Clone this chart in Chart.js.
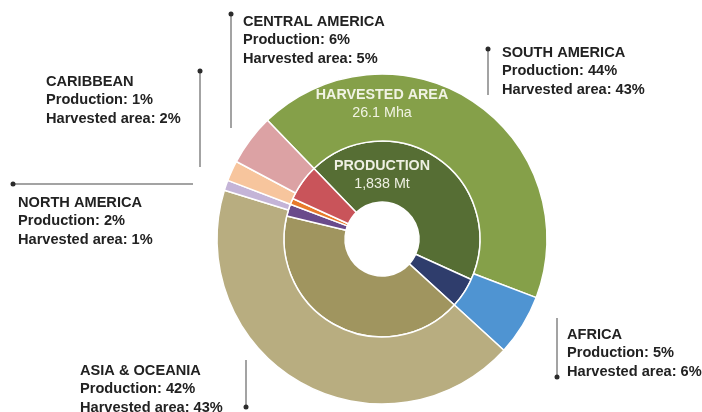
<!DOCTYPE html>
<html>
<head>
<meta charset="utf-8">
<title>Production and harvested area by region</title>
<script src="https://cdn.jsdelivr.net/npm/chart.js@4/dist/chart.umd.min.js"></script>
<style>
  html, body { margin: 0; padding: 0; background: #ffffff; }
  #wrap { position: relative; width: 702px; height: 412px; }
</style>
</head>
<body>
<div id="wrap"><canvas id="chart" width="702" height="412"></canvas></div>
<script>
// Regions, in clockwise order starting from South America
const regions = ['SOUTH AMERICA', 'AFRICA', 'ASIA & OCEANIA', 'NORTH AMERICA', 'CARIBBEAN', 'CENTRAL AMERICA'];
// Share of world production (%)
const production = [44, 5, 42, 2, 1, 6];
// Share of world harvested area (%)
const harvestedArea = [43, 6, 43, 1, 2, 5];
// Ring colours: light shade for harvested area, dark shade for production
const areaColors = ['#85a049', '#4f94d2', '#b8ad80', '#c4b4d7', '#f7c59d', '#dca2a4'];
const prodColors = ['#566e34', '#2f3d6c', '#a0955f', '#6a4b8b', '#e87a2b', '#c9545a'];
// Totals shown in the rings
const areaTitle = 'HARVESTED AREA';
const areaTotal = '26.1 Mha';
const prodTitle = 'PRODUCTION';
const prodTotal = '1,838 Mt';

// Where each region's callout sits: text origin, leader line and dot end
const callouts = [
  { text: [502, 53], line: [[488, 49], [488, 95]], dot: 0 },
  { text: [567, 335], line: [[557, 318], [557, 377]], dot: 1 },
  { text: [80, 371], line: [[246, 360], [246, 407]], dot: 1 },
  { text: [18, 203], line: [[13, 184], [193, 184]], dot: 0 },
  { text: [46, 82], line: [[200, 71], [200, 167]], dot: 0 },
  { text: [243, 22], line: [[231, 14], [231, 128]], dot: 0 }
];

const FONT = '"Liberation Sans", Arial, Helvetica, sans-serif';

const annotations = {
  id: 'annotations',
  afterDraw(chart) {
    const ctx = chart.ctx;
    ctx.save();
    // callouts
    callouts.forEach((c, i) => {
      ctx.strokeStyle = '#a3a3a3';
      ctx.lineWidth = 2;
      ctx.beginPath();
      ctx.moveTo(c.line[0][0], c.line[0][1]);
      ctx.lineTo(c.line[1][0], c.line[1][1]);
      ctx.stroke();
      const d = c.line[c.dot];
      ctx.fillStyle = '#2b2b2b';
      ctx.beginPath();
      ctx.arc(d[0], d[1], 2.5, 0, Math.PI * 2);
      ctx.fill();

      const lines = [regions[i], 'Production: ' + production[i] + '%', 'Harvested area: ' + harvestedArea[i] + '%'];
      ctx.fillStyle = '#222222';
      ctx.font = 'bold 14.6px ' + FONT;
      ctx.textAlign = 'left';
      ctx.textBaseline = 'middle';
      lines.forEach((t, k) => ctx.fillText(t, c.text[0], c.text[1] + k * 18.3));
    });

    // ring titles
    const arc = chart.getDatasetMeta(0).data[0];
    const cx = arc.x, cy = arc.y;
    ctx.fillStyle = 'rgba(250,250,240,0.93)';
    ctx.textAlign = 'center';
    ctx.textBaseline = 'middle';
    ctx.font = 'bold 14.3px ' + FONT;
    ctx.fillText(areaTitle, cx, cy - 144);
    ctx.fillText(prodTitle, cx, cy - 73);
    ctx.font = '14.3px ' + FONT;
    ctx.fillText(areaTotal, cx, cy - 126);
    ctx.fillText(prodTotal, cx, cy - 55);
    ctx.restore();
  }
};

new Chart(document.getElementById('chart'), {
  type: 'doughnut',
  data: {
    labels: regions,
    datasets: [
      { label: 'Harvested area', data: harvestedArea, backgroundColor: areaColors, borderColor: '#ffffff', borderWidth: 1.5, weight: 67 },
      { label: 'Production', data: production, backgroundColor: prodColors, borderColor: '#ffffff', borderWidth: 1.5, weight: 61 }
    ]
  },
  options: {
    responsive: false,
    animation: false,
    rotation: -44,
    radius: 165,
    cutout: '22.4%',
    layout: { padding: { top: 74, bottom: 8, left: 217, right: 155 } },
    plugins: {
      legend: { display: false },
      tooltip: { enabled: false }
    }
  },
  plugins: [annotations]
});
</script>
</body>
</html>
